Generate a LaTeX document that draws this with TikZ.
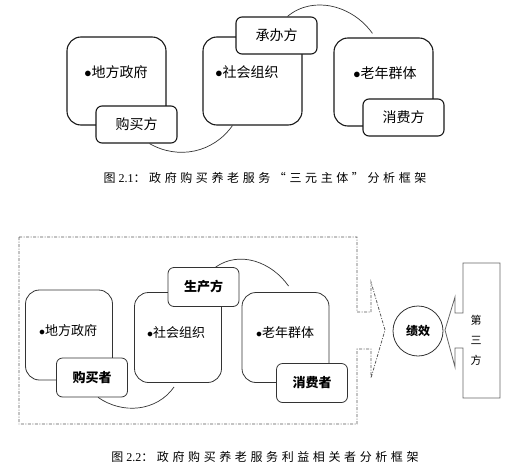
\documentclass[tikz,border=0pt]{standalone}
\usepackage{fontspec}
\setmainfont{Liberation Serif}
\newfontfamily\cjk{Noto Sans CJK SC}
\newfontfamily\cjkcap[LetterSpace=30]{Noto Sans CJK SC}
\usepackage{tikz}
\usetikzlibrary{positioning}

\begin{document}
\begin{tikzpicture}[
  x=1pt, y=-1pt,
  bigtop/.style={draw=black!90, line width=1.1pt, rounded corners=14pt, fill=white,
                 minimum width=99pt, minimum height=88pt, inner sep=0pt},
  tagtop/.style={draw=black!90, line width=1.1pt, rounded corners=6pt, fill=white,
                 minimum width=81pt, minimum height=37pt, inner sep=0pt,
                 font=\fontsize{14}{16}\selectfont\cjk},
  bigbot/.style={draw=black!80, line width=0.8pt, rounded corners=14pt, fill=white,
                 minimum width=87pt, minimum height=90pt, inner sep=0pt},
  tagbot/.style={draw=black!80, line width=0.8pt, rounded corners=6pt, fill=white,
                 minimum width=71pt, minimum height=39pt, inner sep=0pt,
                 font=\fontsize{13}{15}\selectfont\cjk\bfseries},
  txttop/.style={font=\fontsize{14}{16}\selectfont\cjk, inner sep=0pt},
  txtbot/.style={font=\fontsize{13}{15}\selectfont\cjk, inner sep=0pt},
  link/.style={draw=black!80, line width=0.7pt},
  frame/.style={draw=black!65, line width=0.8pt, dash pattern=on 3pt off 1.5pt on 1pt off 1.5pt},
  caption/.style={font=\fontsize{12}{14}\selectfont, inner sep=0pt},
]
\useasboundingbox (0,0) rectangle (513,471);

% figure 2.1
\node[bigtop] (gov1) at (116.5,81)  {};
\node[bigtop] (org1) at (252.5,81)  {};
\node[bigtop] (eld1) at (383.5,82)  {};
\node[txttop] (gov1t) at (116,72) {$\bullet$地方政府};
\node[txttop] (org1t) at (247,72) {$\bullet$社会组织};
\node[txttop] (eld1t) at (385,73) {$\bullet$老年群体};
\node[tagtop] (buy1) at (136.5,124.5) {购买方};
\node[tagtop] (chg1) at (276.5,35.5)  {承办方};
\node[tagtop] (use1) at (403.5,117.5) {消费方};

\draw[link] ([xshift=54pt]buy1.south west) to[out=-30,in=235] ([xshift=30pt]org1.south west);
\draw[link] ([xshift=52pt]chg1.north west) to[out=40,in=125] ([xshift=39pt,yshift=4pt]eld1.north west);

\node[caption] (cap1) at (265,178) {{\cjkcap 图}\ 2.1{\cjkcap ：政府购买养老服务“三元主体”分析框架}};

% figure 2.2
\draw[frame] (19,237) -- (357,237) -- (357,312) -- (371,312) -- (371,282) -- (385,330)
  -- (371,378) -- (371,349) -- (357,349) -- (357,424) -- (19,424) -- cycle;

\node[bigbot] (gov2) at (69,335)    {};
\node[bigbot] (org2) at (178,337.5) {};
\node[bigbot] (eld2) at (285.5,337.5) {};
\node[txtbot] (gov2t) at (68,331)  {$\bullet$地方政府};
\node[txtbot] (org2t) at (176,333) {$\bullet$社会组织};
\node[txtbot] (eld2t) at (285,333) {$\bullet$老年群体};
\node[tagbot] (buy2) at (92,377.5)  {购买者};
\node[tagbot] (pro2) at (203.5,287) {生产方};
\node[tagbot] (use2) at (312,383)   {消费者};

\draw[link] ([xshift=42pt]buy2.south west) to[out=-35,in=235] ([xshift=40pt,yshift=-4pt]org2.south west);
\draw[link] ([xshift=48pt]pro2.north west) to[out=35,in=125] ([xshift=47pt,yshift=6pt]eld2.north west);

\node[circle, draw=black!80, line width=0.8pt, minimum size=50pt, inner sep=0pt,
      font=\fontsize{12}{14}\selectfont\cjk\bfseries] (perf) at (418,331) {绩效};

\draw[draw=black!60, line width=0.8pt] (463,263) -- (500,263) -- (500,398) -- (463,398)
  -- (463,348) -- (455,348) -- (455,367) -- (445,330) -- (455,297) -- (455,313) -- (463,313) -- cycle;
\node[align=center, inner sep=0pt, font=\fontsize{11}{20}\selectfont\cjk] (third) at (476,340) {第\\三\\方};

\node[caption] (cap2) at (265,457) {{\cjkcap 图}\ 2.2{\cjkcap ：政府购买养老服务利益相关者分析框架}};
\end{tikzpicture}
\end{document}
